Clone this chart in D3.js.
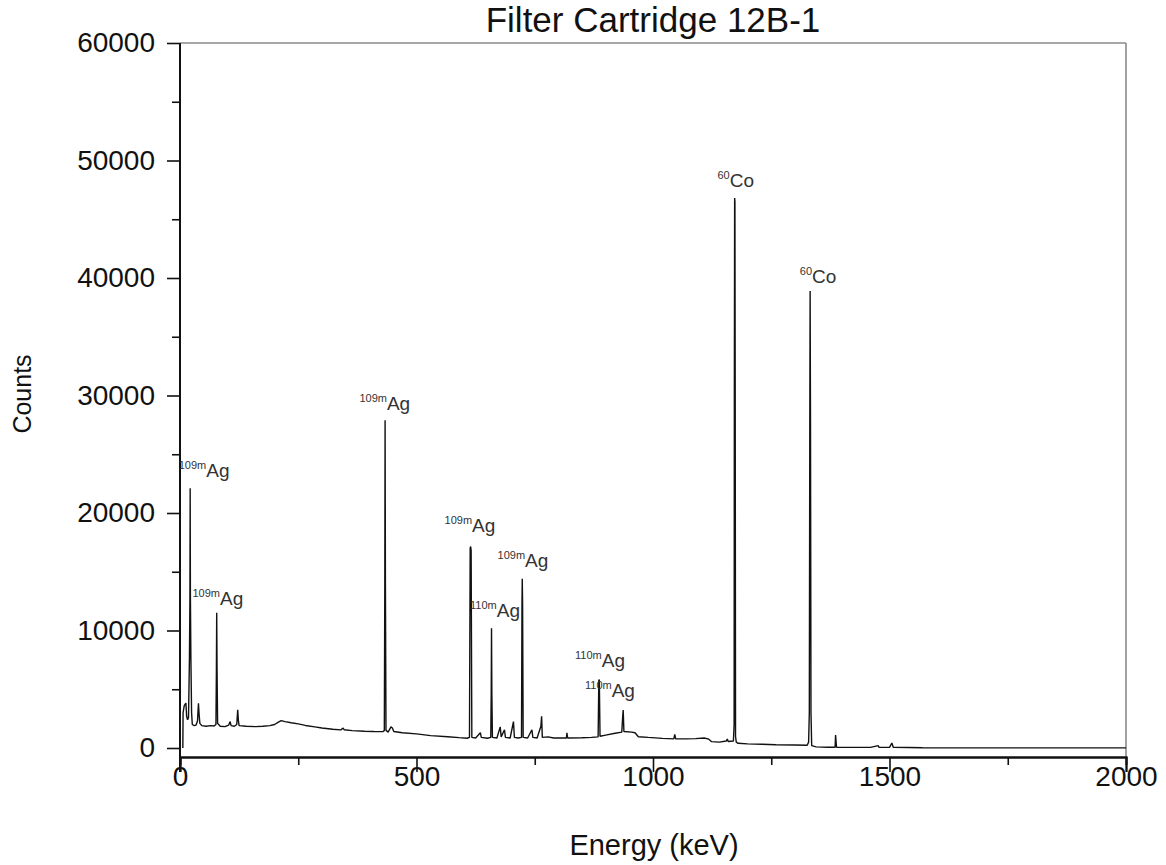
<!DOCTYPE html>
<html>
<head>
<meta charset="utf-8">
<script src="https://cdn.jsdelivr.net/npm/d3@7/dist/d3.min.js"></script>
<style>
  html, body { margin: 0; padding: 0; background: #fff; }
  svg { display: block; }
  text { font-family: "Liberation Sans", Arial, sans-serif; }
</style>
</head>
<body>
<svg id="chart" width="1166" height="865"></svg>
<script>
// ---- Data ----
const title = "Filter Cartridge 12B-1";
const xLabel = "Energy (keV)";
const yLabel = "Counts";
const xTicks = [0, 500, 1000, 1500, 2000];
const xMinorTicks = [250, 750, 1250, 1750];
const yTicks = [0, 10000, 20000, 30000, 40000, 50000, 60000];
const yMinorTicks = [5000, 15000, 25000, 35000, 45000, 55000];

// Spectrum: energy (keV) and counts
const energy = [
  6, 6.5, 9, 12.5, 14, 16, 18,
  20, 21, 21.5, 22, 23, 24.5, 26, 30,
  34, 37, 39, 40.5, 42, 46, 55, 65, 72,
  76, 77, 77.6, 78.3, 79.5, 85, 95, 103, 106, 108, 115,
  120, 122, 123.5, 125, 140, 160, 175, 190, 200, 208, 214, 222, 235, 250, 265, 285, 300, 323, 340,
  345, 347, 364, 390, 410, 429,
  432, 433, 433.6, 434.3, 435.5, 440, 446, 449, 452, 470, 500, 530, 566, 590, 607,
  612, 613.5, 614.5, 615.5, 617, 625, 635, 637, 650,
  657, 658, 658.6, 659.3, 660.5, 670, 677, 679, 686, 688, 698, 705, 707, 715,
  722, 723, 723.6, 724.3, 725.5, 735, 744, 746, 755, 763, 764.5, 766, 778, 790,
  817, 818, 819.5, 850, 870, 884, 885.5, 886.5, 888, 900, 920,
  934, 936, 937, 938.5, 955, 962, 969, 990, 1020, 1044, 1046, 1048, 1070, 1090, 1108, 1118, 1124,
  1140, 1155, 1157, 1159, 1170, 1171.5, 1172, 1172.6, 1173.2, 1173.8, 1174.5, 1176, 1180, 1200, 1230, 1260, 1300, 1326,
  1329, 1330.5, 1331.5, 1332.2, 1333, 1334, 1335.5, 1345, 1370, 1385, 1386, 1388,
  1420, 1460, 1476, 1478, 1500, 1505, 1508, 1540, 1570, 1700, 1850, 2000
];
const counts = [
  0, 3000, 3600, 3830, 2700, 2400, 2600,
  7700, 12800, 22100, 12800, 7700, 3000, 2000, 1900,
  1950, 2300, 3800, 2800, 2100, 1900, 1850, 1900, 1870,
  2000, 6800, 11500, 6800, 2100, 1850, 1820, 1950, 2250, 1900, 1850,
  2000, 3250, 2300, 1900, 1850, 1820, 1850, 1900, 2000, 2200, 2330, 2250, 2150, 2050, 1920, 1800, 1700, 1590, 1540,
  1700, 1550, 1475, 1420, 1400, 1390,
  1500, 13900, 27900, 13900, 1500, 1350, 1800, 1700, 1400, 1300, 1200, 1050, 960, 880, 830,
  900, 17000, 17150, 16800, 900, 850, 1300, 900, 830,
  900, 4700, 10200, 4700, 900, 850, 1800, 950, 1550, 900, 850, 2250, 900, 850,
  900, 12200, 14400, 12200, 900, 850, 1550, 900, 850, 1850, 2700, 900, 950, 850,
  850, 1300, 850, 870, 900, 950, 5800, 5790, 1000, 1100, 1250,
  1350, 2700, 3230, 1400, 1350, 1300, 960, 900, 820, 780, 1150, 780, 780, 800, 850, 750, 540,
  500, 600, 760, 550, 600, 2000, 30000, 46800, 46500, 30000, 1000, 500, 400, 350, 320, 280, 250, 230,
  500, 3000, 27400, 38900, 27400, 3000, 200, 100, 60, 60, 1100, 60,
  50, 50, 200, 50, 60, 420, 60, 40, 20, 10, 10, 10
];

// Peak labels: isotope mass number, element, label anchor (keV, counts)
const labelMass = ["109m", "109m", "109m", "109m", "110m", "109m", "110m", "110m", "60", "60"];
const labelElem = ["Ag", "Ag", "Ag", "Ag", "Ag", "Ag", "Ag", "Ag", "Co", "Co"];
const labelE = [51, 80, 433, 613, 666, 725, 888, 909, 1175, 1349];
const labelC = [23060, 12170, 28760, 18380, 11150, 15400, 6890, 4340, 47740, 39570];

// ---- Layout ----
const svg = d3.select("#chart");
const L = 180, R = 1126, T = 43, Y0 = 748, AXY = 757;

const x = d3.scaleLinear().domain([0, 2000]).range([L, R]);
const y = d3.scaleLinear().domain([0, 60000]).range([Y0, T]);

// frame top/right (grey)
svg.append("line").attr("x1", L).attr("x2", R).attr("y1", T).attr("y2", T)
  .attr("stroke", "#8a8a8a").attr("stroke-width", 1.6);
svg.append("line").attr("x1", R).attr("x2", R).attr("y1", T).attr("y2", AXY)
  .attr("stroke", "#8a8a8a").attr("stroke-width", 1.6);

// spectrum
const pts = energy.map((e, i) => [e, counts[i]]);
svg.append("path")
  .datum(pts)
  .attr("fill", "none")
  .attr("stroke", "#111")
  .attr("stroke-width", 1.4)
  .attr("stroke-linejoin", "bevel")
  .attr("d", d3.line().x(d => x(d[0])).y(d => y(d[1])));

// X axis
const xAxis = svg.append("g").attr("transform", `translate(0,${AXY})`);
xAxis.call(d3.axisBottom(x).tickValues(xTicks).tickSize(15).tickFormat(d3.format("d")));
xAxis.append("g").call(d3.axisBottom(x).tickValues(xMinorTicks).tickSize(8).tickFormat(""));
xAxis.selectAll(".domain").attr("stroke", "#111").attr("stroke-width", 2);
xAxis.selectAll(".tick line").attr("stroke", "#111").attr("stroke-width", 1.6);
xAxis.selectAll("text").attr("font-size", 28).attr("fill", "#111").attr("y", 9)
  .attr("font-family", "Liberation Sans, Arial, sans-serif");

// Y axis
const yAxis = svg.append("g").attr("transform", `translate(${L},0)`);
yAxis.call(d3.axisLeft(y).tickValues(yTicks).tickSize(13).tickPadding(12).tickFormat(d3.format("d")));
yAxis.append("g").call(d3.axisLeft(y).tickValues(yMinorTicks).tickSize(8).tickFormat(""));
yAxis.selectAll(".domain").remove();
yAxis.append("line").attr("x1", 0).attr("x2", 0).attr("y1", T).attr("y2", AXY + 15)
  .attr("stroke", "#111").attr("stroke-width", 2);
yAxis.selectAll(".tick line").attr("stroke", "#111").attr("stroke-width", 1.6);
yAxis.selectAll("text").attr("font-size", 28).attr("fill", "#111")
  .attr("font-family", "Liberation Sans, Arial, sans-serif");

// Title and axis labels
svg.append("text").attr("x", 653).attr("y", 32).attr("text-anchor", "middle")
  .attr("font-size", 35).attr("fill", "#111").text(title);
svg.append("text").attr("x", 654).attr("y", 855).attr("text-anchor", "middle")
  .attr("font-size", 29).attr("fill", "#111").text(xLabel);
svg.append("text").attr("transform", "translate(31,394) rotate(-90)").attr("text-anchor", "middle")
  .attr("font-size", 25).attr("fill", "#111").text(yLabel);

// Peak labels
labelE.forEach((e, i) => {
  const t = svg.append("text")
    .attr("x", x(e)).attr("y", y(labelC[i]))
    .attr("text-anchor", "middle").attr("fill", "#333");
  t.append("tspan").attr("font-size", 11).attr("dy", -8).text(labelMass[i]);
  t.append("tspan").attr("font-size", 19).attr("dy", 8).text(labelElem[i]);
});
</script>
</body>
</html>
